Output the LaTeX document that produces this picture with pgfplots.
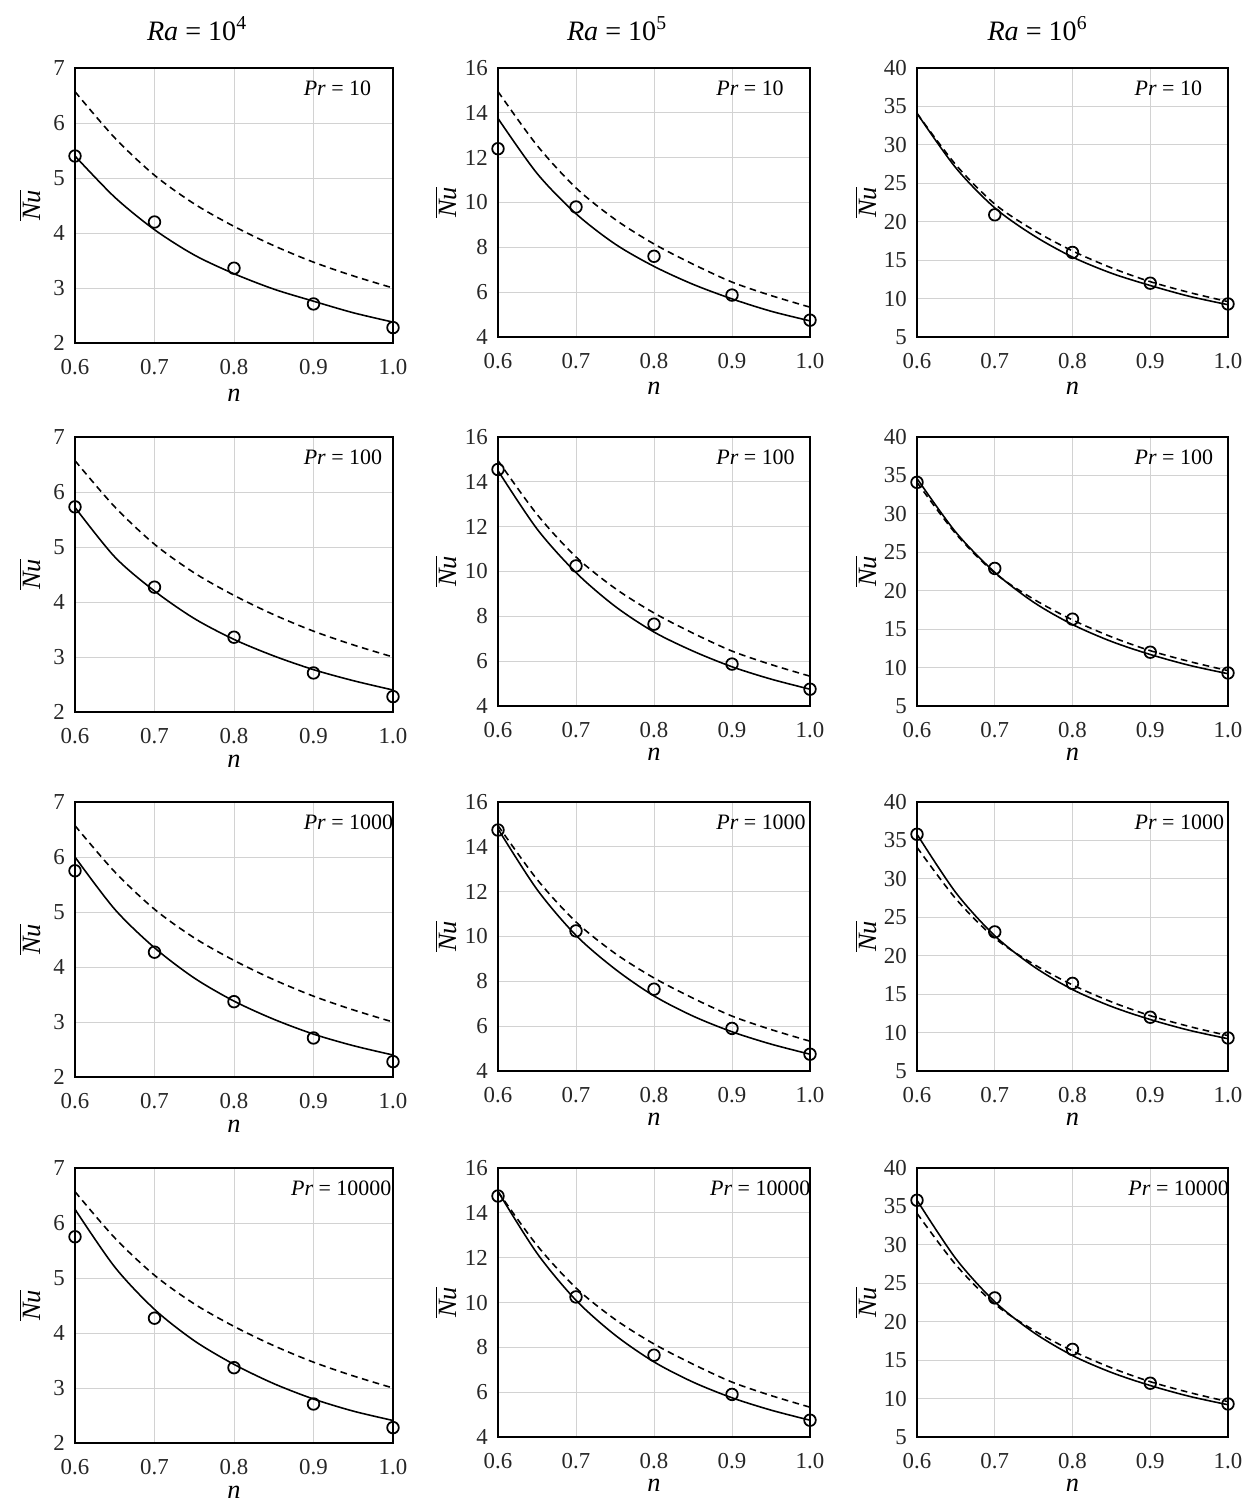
\documentclass[border=0pt]{standalone}
\usepackage{fontspec}
\setmainfont{Liberation Serif}
\usepackage{pgfplots}
\pgfplotsset{compat=1.18}

\pgfplotsset{
  panel/.style={
    scale only axis, clip=false,
    anchor=north west,
    xmin=0.6, xmax=1.0, xtick={0.6,0.7,0.8,0.9,1.0},
    xticklabel style={yshift=-0.2cm, /pgf/number format/.cd, fixed, fixed zerofill, precision=1},
    /pgf/number format/assume math mode=true,
    grid=major, grid style={gray!35, line width=0.5pt},
    major tick length=0pt,
    axis line style={line width=0.7pt},
    tick label style={font=\fontsize{13}{14}\selectfont, black!85},
    yticklabel style={xshift=-0.08cm},
    label style={font=\fontsize{15}{16}\selectfont},
    xlabel={\textit{n}}, ylabel={$\overline{\mbox{\itshape Nu}}$},
  },
  c1/.style={width=6.36cm, height=5.5cm, ymin=2, ymax=7, ytick={2,3,...,7},
    ylabel style={at={(axis description cs:-0.142,0.5)}, anchor=center}},
  c2/.style={width=6.24cm, height=5.38cm, ymin=4, ymax=16, ytick={4,6,...,16},
    ylabel style={at={(axis description cs:-0.167,0.5)}, anchor=center}},
  c3/.style={width=6.22cm, height=5.38cm, ymin=5, ymax=40, ytick={5,10,...,40},
    ylabel style={at={(axis description cs:-0.164,0.5)}, anchor=center}},
  rA/.style={xlabel style={at={(axis description cs:0.5,-0.19)}, anchor=center, inner sep=0.5pt}},
  rB/.style={xlabel style={at={(axis description cs:0.5,-0.178)}, anchor=center, inner sep=0.5pt}},
  sol/.style={black, line width=0.9pt, smooth, no markers},
  das/.style={black, line width=0.9pt, dash pattern=on 3.8pt off 2.6pt, smooth, no markers},
  cir/.style={only marks, mark=o, mark size=3.3pt, black, mark options={line width=1.0pt}},
}

\newcommand{\prlab}[2]{\node[anchor=west, font=\fontsize{12.5}{13}\selectfont] at (rel axis cs:#1,0.926) {\textit{Pr} = #2};}
\newcommand{\ralab}[2]{\node[font=\fontsize{16}{17}\selectfont] at (rel axis cs:0.5,1) [yshift=0.78cm, xshift=#1] {\textit{Ra} = 10\textsuperscript{#2}};}

\begin{document}
\begin{tikzpicture}
\path (0,0) rectangle (25,-30.02);

% ---------------- row 1: Pr = 10 ----------------
\begin{axis}[panel, c1, rA, at={(1.50cm,-1.36cm)}]
\addplot[das] coordinates {(0.6,6.57) (0.65,5.73) (0.7,5.05) (0.75,4.53) (0.8,4.12) (0.85,3.77) (0.9,3.47) (0.95,3.22) (1.0,3.0)};
\addplot[sol] coordinates {(0.6,5.4) (0.65,4.65) (0.7,4.06) (0.75,3.6) (0.8,3.26) (0.85,2.98) (0.9,2.76) (0.95,2.55) (1.0,2.38)};
\addplot[cir] coordinates {(0.6,5.4) (0.7,4.2) (0.8,3.36) (0.9,2.71) (1.0,2.28)};
\prlab{0.70}{10}
\ralab{-0.74cm}{4}
\end{axis}

\begin{axis}[panel, c2, rA, at={(9.96cm,-1.36cm)}]
\addplot[das] coordinates {(0.6,14.95) (0.65,12.55) (0.7,10.65) (0.75,9.25) (0.8,8.15) (0.85,7.25) (0.9,6.45) (0.95,5.85) (1.0,5.33)};
\addplot[sol] coordinates {(0.6,13.75) (0.65,11.3) (0.7,9.5) (0.75,8.15) (0.8,7.15) (0.85,6.35) (0.9,5.7) (0.95,5.15) (1.0,4.72)};
\addplot[cir] coordinates {(0.6,12.4) (0.7,9.8) (0.8,7.6) (0.9,5.87) (1.0,4.75)};
\prlab{0.68}{10}
\ralab{-0.74cm}{5}
\end{axis}

\begin{axis}[panel, c3, rA, at={(18.34cm,-1.36cm)}]
\addplot[das] coordinates {(0.6,34.1) (0.65,27.4) (0.7,22.3) (0.75,18.9) (0.8,16.2) (0.85,14.0) (0.9,12.2) (0.95,10.8) (1.0,9.6)};
\addplot[sol] coordinates {(0.6,34.1) (0.65,27.0) (0.7,21.8) (0.75,18.2) (0.8,15.4) (0.85,13.3) (0.9,11.7) (0.95,10.3) (1.0,9.2)};
\addplot[cir] coordinates {(0.7,20.9) (0.8,16.0) (0.9,12.0) (1.0,9.3)};
\prlab{0.68}{10}
\ralab{-0.70cm}{6}
\end{axis}

% ---------------- row 2: Pr = 100 ----------------
\begin{axis}[panel, c1, rB, at={(1.50cm,-8.74cm)}]
\addplot[das] coordinates {(0.6,6.57) (0.65,5.73) (0.7,5.05) (0.75,4.53) (0.8,4.12) (0.85,3.77) (0.9,3.47) (0.95,3.22) (1.0,3.0)};
\addplot[sol] coordinates {(0.6,5.72) (0.65,4.82) (0.7,4.2) (0.75,3.7) (0.8,3.32) (0.85,3.02) (0.9,2.77) (0.95,2.57) (1.0,2.4)};
\addplot[cir] coordinates {(0.6,5.73) (0.7,4.27) (0.8,3.36) (0.9,2.71) (1.0,2.28)};
\prlab{0.70}{100}
\end{axis}

\begin{axis}[panel, c2, rB, at={(9.96cm,-8.74cm)}]
\addplot[das] coordinates {(0.6,14.95) (0.65,12.55) (0.7,10.65) (0.75,9.25) (0.8,8.15) (0.85,7.25) (0.9,6.45) (0.95,5.85) (1.0,5.33)};
\addplot[sol] coordinates {(0.6,14.5) (0.65,11.9) (0.7,9.95) (0.75,8.45) (0.8,7.3) (0.85,6.45) (0.9,5.75) (0.95,5.2) (1.0,4.75)};
\addplot[cir] coordinates {(0.6,14.55) (0.7,10.25) (0.8,7.65) (0.9,5.87) (1.0,4.75)};
\prlab{0.68}{100}
\end{axis}

\begin{axis}[panel, c3, rB, at={(18.34cm,-8.74cm)}]
\addplot[das] coordinates {(0.6,34.1) (0.65,27.4) (0.7,22.3) (0.75,18.9) (0.8,16.2) (0.85,14.0) (0.9,12.2) (0.95,10.8) (1.0,9.6)};
\addplot[sol] coordinates {(0.6,34.6) (0.65,27.6) (0.7,22.4) (0.75,18.5) (0.8,15.6) (0.85,13.4) (0.9,11.7) (0.95,10.3) (1.0,9.2)};
\addplot[cir] coordinates {(0.6,34.1) (0.7,22.9) (0.8,16.3) (0.9,12.0) (1.0,9.3)};
\prlab{0.68}{100}
\end{axis}

% ---------------- row 3: Pr = 1000 ----------------
\begin{axis}[panel, c1, rB, at={(1.50cm,-16.04cm)}]
\addplot[das] coordinates {(0.6,6.57) (0.65,5.73) (0.7,5.05) (0.75,4.53) (0.8,4.12) (0.85,3.77) (0.9,3.47) (0.95,3.22) (1.0,3.0)};
\addplot[sol] coordinates {(0.6,6.0) (0.65,5.05) (0.7,4.35) (0.75,3.8) (0.8,3.38) (0.85,3.05) (0.9,2.78) (0.95,2.57) (1.0,2.4)};
\addplot[cir] coordinates {(0.6,5.75) (0.7,4.27) (0.8,3.37) (0.9,2.71) (1.0,2.28)};
\prlab{0.70}{1000}
\end{axis}

\begin{axis}[panel, c2, rB, at={(9.96cm,-16.04cm)}]
\addplot[das] coordinates {(0.6,14.95) (0.65,12.55) (0.7,10.65) (0.75,9.25) (0.8,8.15) (0.85,7.25) (0.9,6.45) (0.95,5.85) (1.0,5.33)};
\addplot[sol] coordinates {(0.6,14.8) (0.65,12.1) (0.7,10.05) (0.75,8.55) (0.8,7.35) (0.85,6.45) (0.9,5.75) (0.95,5.2) (1.0,4.75)};
\addplot[cir] coordinates {(0.6,14.75) (0.7,10.25) (0.8,7.65) (0.9,5.9) (1.0,4.75)};
\prlab{0.68}{1000}
\end{axis}

\begin{axis}[panel, c3, rB, at={(18.34cm,-16.04cm)}]
\addplot[das] coordinates {(0.6,34.1) (0.65,27.4) (0.7,22.3) (0.75,18.9) (0.8,16.2) (0.85,14.0) (0.9,12.2) (0.95,10.8) (1.0,9.6)};
\addplot[sol] coordinates {(0.6,35.8) (0.65,28.2) (0.7,22.6) (0.75,18.6) (0.8,15.6) (0.85,13.4) (0.9,11.7) (0.95,10.3) (1.0,9.2)};
\addplot[cir] coordinates {(0.6,35.8) (0.7,23.1) (0.8,16.4) (0.9,12.0) (1.0,9.3)};
\prlab{0.68}{1000}
\end{axis}

% ---------------- row 4: Pr = 10000 ----------------
\begin{axis}[panel, c1, rB, at={(1.50cm,-23.36cm)}]
\addplot[das] coordinates {(0.6,6.57) (0.65,5.73) (0.7,5.05) (0.75,4.53) (0.8,4.12) (0.85,3.77) (0.9,3.47) (0.95,3.22) (1.0,3.0)};
\addplot[sol] coordinates {(0.6,6.25) (0.65,5.2) (0.7,4.43) (0.75,3.86) (0.8,3.43) (0.85,3.08) (0.9,2.8) (0.95,2.58) (1.0,2.41)};
\addplot[cir] coordinates {(0.6,5.75) (0.7,4.27) (0.8,3.37) (0.9,2.71) (1.0,2.28)};
\prlab{0.66}{10000}
\end{axis}

\begin{axis}[panel, c2, rB, at={(9.96cm,-23.36cm)}]
\addplot[das] coordinates {(0.6,14.95) (0.65,12.55) (0.7,10.65) (0.75,9.25) (0.8,8.15) (0.85,7.25) (0.9,6.45) (0.95,5.85) (1.0,5.33)};
\addplot[sol] coordinates {(0.6,14.95) (0.65,12.2) (0.7,10.1) (0.75,8.55) (0.8,7.35) (0.85,6.45) (0.9,5.75) (0.95,5.2) (1.0,4.75)};
\addplot[cir] coordinates {(0.6,14.75) (0.7,10.25) (0.8,7.65) (0.9,5.9) (1.0,4.75)};
\prlab{0.66}{10000}
\end{axis}

\begin{axis}[panel, c3, rB, at={(18.34cm,-23.36cm)}]
\addplot[das] coordinates {(0.6,34.1) (0.65,27.4) (0.7,22.3) (0.75,18.9) (0.8,16.2) (0.85,14.0) (0.9,12.2) (0.95,10.8) (1.0,9.6)};
\addplot[sol] coordinates {(0.6,35.8) (0.65,28.2) (0.7,22.6) (0.75,18.6) (0.8,15.6) (0.85,13.4) (0.9,11.7) (0.95,10.3) (1.0,9.2)};
\addplot[cir] coordinates {(0.6,35.8) (0.7,23.1) (0.8,16.4) (0.9,12.0) (1.0,9.3)};
\prlab{0.66}{10000}
\end{axis}
\end{tikzpicture}
\end{document}
